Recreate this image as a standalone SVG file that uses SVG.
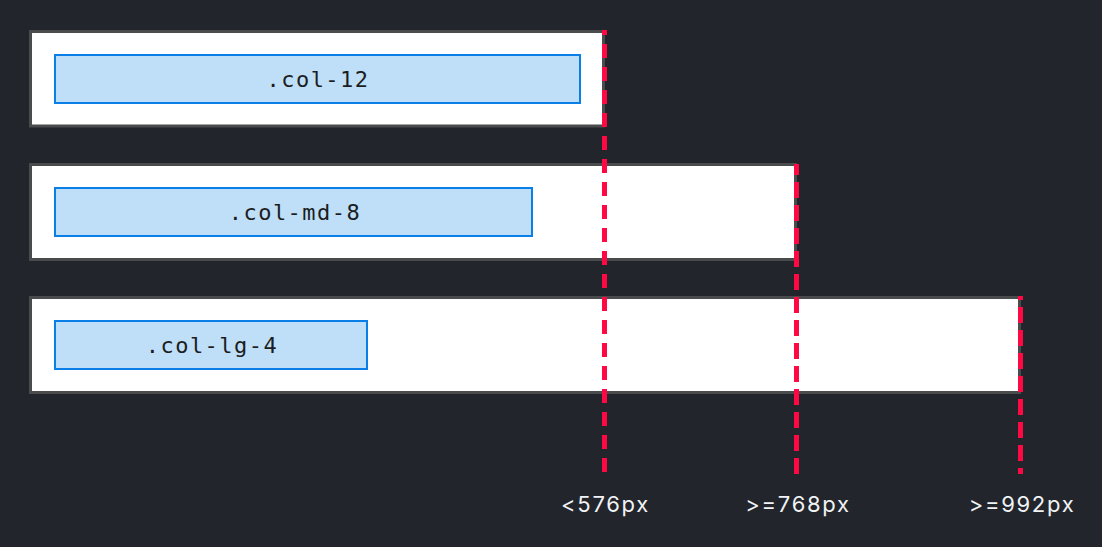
<svg xmlns="http://www.w3.org/2000/svg" width="1102" height="547" viewBox="0 0 1102 547">
<style>
.outer{fill:#ffffff;stroke:#4a4b4d;stroke-width:3}
.inner{fill:#bfdff8;stroke:#0b7fe8;stroke-width:2}
.code{font-family:"DejaVu Sans Mono","Liberation Mono",monospace;font-size:22px;letter-spacing:1.5px;fill:#1b1d21;text-anchor:middle}
.bp{fill:none;stroke:#ff0844;stroke-width:5}
.lbl{font-family:"Inter","Liberation Sans",sans-serif;font-size:22px;letter-spacing:1.7px;fill:#f1f3f5;text-anchor:middle}
</style>
<rect x="0" y="0" width="1102" height="547" fill="#22252c"/>
<g id="row-col-12">
<rect class="outer" x="30.5" y="31.5" width="573" height="94.5"/>
<rect class="inner" x="55" y="55" width="525" height="48"/>
<text class="code" x="318" y="87">.col-12</text>
</g>
<g id="row-col-md-8">
<rect class="outer" x="30.5" y="164.5" width="765" height="95"/>
<rect class="inner" x="55" y="188" width="477" height="48"/>
<text class="code" x="295" y="220">.col-md-8</text>
</g>
<g id="row-col-lg-4">
<rect class="outer" x="30.5" y="297.5" width="989" height="95"/>
<rect class="inner" x="55" y="321" width="312" height="48"/>
<text class="code" x="212" y="353">.col-lg-4</text>
</g>
<g id="connectors">
<path class="bp" d="M604.5 472 V30" stroke-dasharray="14 9"/>
<path class="bp" d="M796.5 474 V164" stroke-dasharray="16 7"/>
<path class="bp" d="M1020.5 296 V474" stroke-dasharray="16 7" stroke-dashoffset="12"/>
</g>
<g id="labels">
<text class="lbl" x="605.5" y="512">&lt;576px</text>
<text class="lbl" x="798" y="512">&gt;=768px</text>
<text class="lbl" x="1022" y="512">&gt;=992px</text>
</g>
</svg>
